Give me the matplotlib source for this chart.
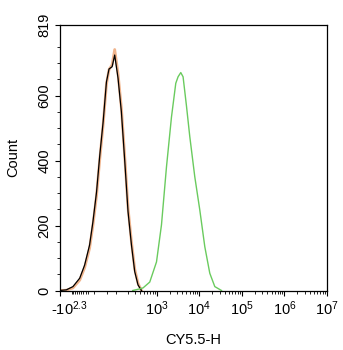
import numpy as np
import matplotlib
matplotlib.use("Agg")
import matplotlib.pyplot as plt
from matplotlib.transforms import ScaledTranslation

plt.rcParams['font.family'] = 'Liberation Sans'
plt.rcParams['mathtext.fontset'] = 'custom'
plt.rcParams['mathtext.rm'] = 'Liberation Sans'
plt.rcParams['mathtext.it'] = 'Liberation Sans:italic'

# Histogram readings (intensity, count)
black_x = [-203, -138, -91, -55, -34, -15, -3, 10, 22, 35, 49, 61, 77, 92,
           114, 140, 171, 206, 250, 300, 360, 434]
black_y = [0, 2, 12, 38, 78, 140, 211, 303, 417, 519, 642, 682, 689, 725,
           654, 550, 397, 243, 140, 58, 17, 0]

orange_x = black_x
orange_y = [0, 1, 8, 32, 70, 130, 200, 292, 405, 510, 635, 680, 695, 742,
            668, 562, 410, 255, 150, 66, 22, 0]

green_x = [268, 395, 474, 683, 985, 1290, 1691, 2218, 2800, 3171, 3670, 4157,
           4997, 5977, 7838, 10275, 13471, 17665, 23160, 33300]
green_y = [0, 5, 8, 26, 88, 202, 380, 534, 638, 658, 671, 658, 568, 474,
           350, 248, 135, 53, 12, 0]

x_ticks = [-10**2.3, 1e3, 1e4, 1e5, 1e6, 1e7]
x_labels = [r'-$\mathregular{10^{2.3}}$', r'$\mathregular{10^{3}}$', r'$\mathregular{10^{4}}$',
            r'$\mathregular{10^{5}}$', r'$\mathregular{10^{6}}$', r'$\mathregular{10^{7}}$']
y_ticks = [0, 200, 400, 600, 819]

W = 33.0
def fwd(x):
    x = np.asarray(x, dtype=float)
    return np.log10(W) + np.arcsinh(x / (2 * W)) / np.log(10)

def inv(u):
    u = np.asarray(u, dtype=float)
    return 2 * W * np.sinh((u - np.log10(W)) * np.log(10))

fig = plt.figure(figsize=(3.43, 3.50), dpi=100)
ax = fig.add_axes([0.175, 0.170, 0.778, 0.760])
ax.set_xscale('function', functions=(fwd, inv))

ax.plot(orange_x, orange_y, color='#f0b48c', lw=2.0)
ax.plot(black_x, black_y, color='black', lw=0.9)
ax.plot(green_x, green_y, color='#6acb5e', lw=1.0)

ax.set_xlim(-10**2.3, 1e7)
ax.set_ylim(0, 819)

ax.set_xticks(x_ticks)
ax.set_xticklabels(x_labels)
minor = list(range(-100, -10, 10)) + [0, 50] + list(range(100, 1000, 100))
for k in range(3, 7):
    minor += [m * 10**k for m in range(2, 10)]
ax.set_xticks(minor, minor=True)

ax.set_yticks(y_ticks)
ax.set_yticklabels([str(v) for v in y_ticks], rotation=90, va='center')
ax.set_yticks([v for v in range(50, 819, 50) if v % 200 != 0], minor=True)

ax.tick_params(which='major', length=3.6, width=0.8, pad=2.5, labelsize=10.5, colors='black')
ax.tick_params(which='minor', length=2.0, width=0.6)

# first x label sits right of its tick in the reference
lab0 = ax.get_xticklabels()[0]
lab0.set_transform(lab0.get_transform() + ScaledTranslation(0.10, 0, fig.dpi_scale_trans))

for s in ax.spines.values():
    s.set_linewidth(0.9)

ax.set_xlabel('CY5.5-H', fontsize=10.5)
ax.set_ylabel('Count', fontsize=10.5)
ax.xaxis.set_label_coords(0.5, -0.16)
ax.yaxis.set_label_coords(-0.15, 0.5)

fig.savefig('out.png', dpi=100)
